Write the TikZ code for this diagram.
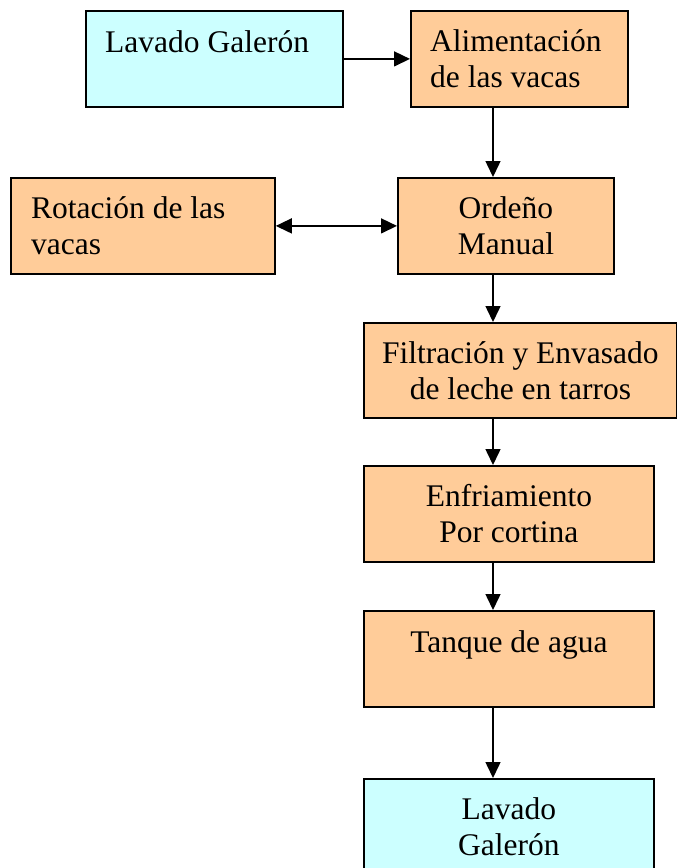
\documentclass[tikz,border=0pt]{standalone}
\usepackage{fontspec}
\setmainfont{Liberation Serif}
\usetikzlibrary{arrows.meta}
\definecolor{boxcyan}{RGB}{204,255,255}
\definecolor{boxorange}{RGB}{255,204,153}
\begin{document}
\begin{tikzpicture}[x=1pt,y=-1pt,
 box/.style={draw=black,line width=1.8pt,inner sep=0pt,anchor=north west,font=\fontsize{31.5}{36}\selectfont,align=center},
 txt/.style={inner sep=0pt,align=left,font=\fontsize{31.5}{36}\selectfont},
 arr/.style={line width=1.5pt,-{Triangle[length=16pt,width=15pt]}},
 darr/.style={line width=1.5pt,{Triangle[length=16pt,width=15pt]}-{Triangle[length=16pt,width=15pt]}}]
\useasboundingbox (0,0) rectangle (677,868);
\clip (0,0) rectangle (677,868);
\coordinate (ax) at (493,0);
% boxes
\node[box,fill=boxcyan,minimum width=257pt,minimum height=96pt] (b1) at (85,10) {};
\node[txt,anchor=north west] (t1) at ([xshift=20pt,yshift=-20pt]b1.north west) {Lavado Galerón};
\node[box,fill=boxorange,minimum width=217pt,minimum height=96pt] (b2) at (410,10) {};
\node[txt,anchor=west] (t2) at ([xshift=20pt]b2.west) {Alimentación\\de las vacas};
\node[box,fill=boxorange,minimum width=264pt,minimum height=96pt] (b4) at (10,177) {};
\node[txt,anchor=west] (t4) at ([xshift=21pt]b4.west) {Rotación de las\\vacas};
\node[box,fill=boxorange,minimum width=216pt,minimum height=96pt] (b3) at (397,177) {Ordeño\\Manual};
\node[box,fill=boxorange,minimum width=313pt,minimum height=95pt] (b5) at (363,322) {Filtración y Envasado\\de leche en tarros};
\node[box,fill=boxorange,minimum width=290pt,minimum height=96pt] (b6) at (363,465) {Enfriamiento\\Por cortina};
\node[box,fill=boxorange,minimum width=290pt,minimum height=96pt] (b7) at (363,610) {};
\node[txt,anchor=north] (t7) at ([yshift=-20pt]b7.north) {Tanque de agua};
\node[box,fill=boxcyan,minimum width=290pt,minimum height=96pt] (b8) at (363,778) {Lavado\\Galerón};
% connectors
\draw[arr] (b1.east) -- (b2.west);
\draw[arr] (b2.south -| ax) -- (b3.north -| ax);
\draw[darr] (b4.east) -- (b3.west);
\draw[arr] (b3.south -| ax) -- (b5.north -| ax);
\draw[arr] (b5.south -| ax) -- (b6.north -| ax);
\draw[arr] (b6.south -| ax) -- (b7.north -| ax);
\draw[arr] (b7.south -| ax) -- (b8.north -| ax);
\end{tikzpicture}
\end{document}
